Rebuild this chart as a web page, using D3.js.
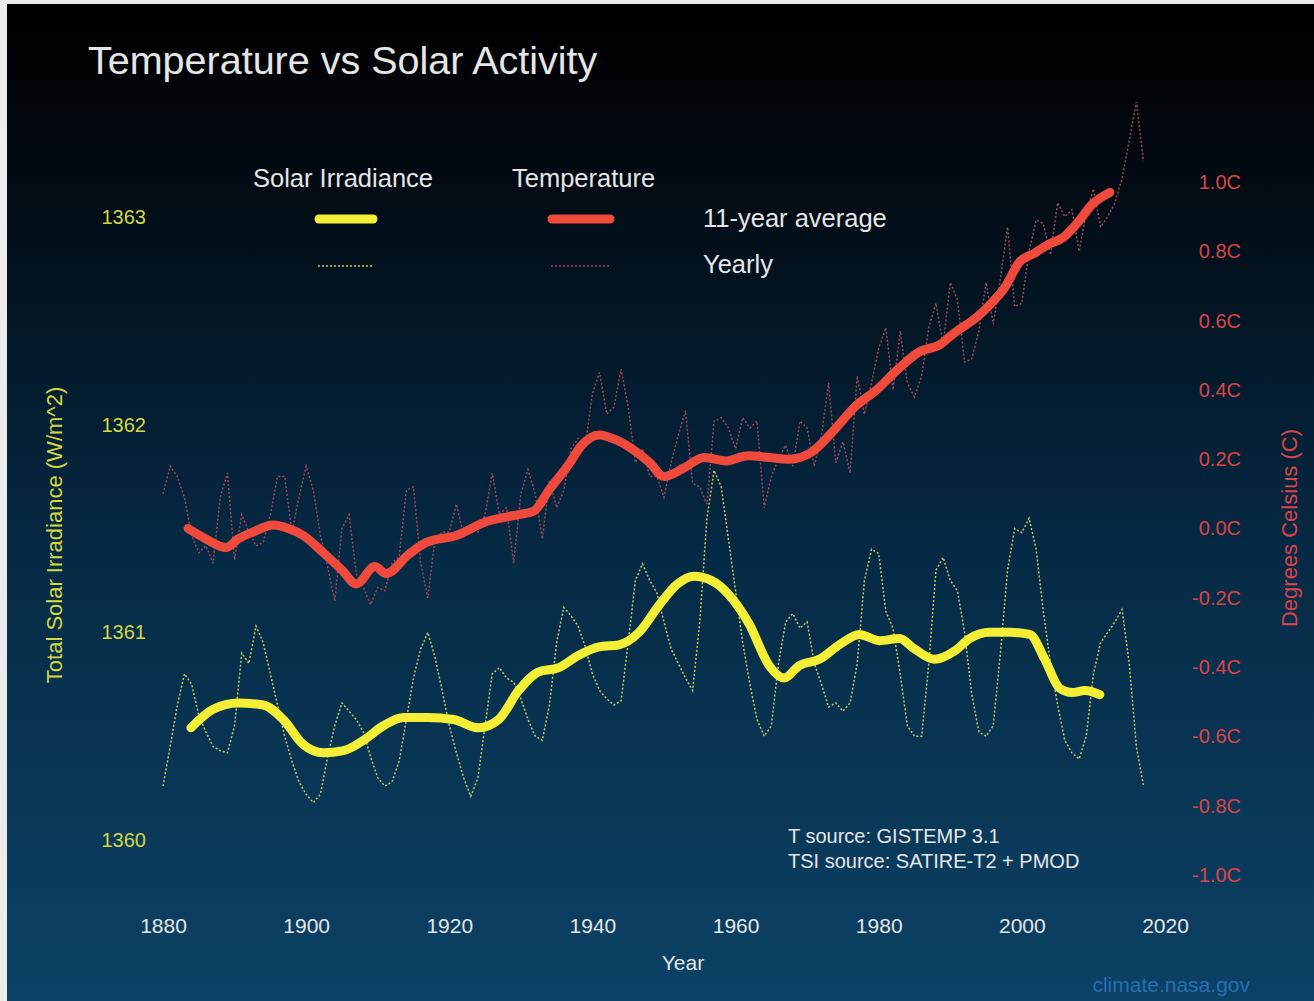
<!DOCTYPE html>
<html>
<head>
<meta charset="utf-8">
<title>Temperature vs Solar Activity</title>
<script src="https://cdn.jsdelivr.net/npm/d3@7"></script>
<style>
  body { margin: 0; background: #ececec; }
  svg { display: block; font-family: "Liberation Sans", Arial, sans-serif; }
</style>
</head>
<body>
<svg id="chart" width="1314" height="1001"></svg>
<script>
// yearly series start in 1880, one value per year
var firstYear = 1880;

// temperature anomaly, yearly (deg C, right axis)
var tempYearly = [
  0.10, 0.18, 0.15, 0.09, -0.02, -0.07, -0.05, -0.10, 0.09, 0.16,
  -0.09, 0.04, -0.01, -0.05, -0.04, 0.04, 0.15, 0.15, -0.01, 0.09,
  0.18, 0.11, -0.02, -0.11, -0.21, 0.00, 0.04, -0.13, -0.17, -0.22,
  -0.17, -0.18, -0.10, -0.08, 0.11, 0.12, -0.10, -0.20, -0.03, -0.01,
  -0.01, 0.07, -0.02, 0.00, -0.01, 0.04, 0.16, 0.04, 0.06, -0.10,
  0.10, 0.17, 0.10, -0.03, 0.14, 0.06, 0.11, 0.23, 0.26, 0.24,
  0.39, 0.45, 0.33, 0.35, 0.46, 0.35, 0.19, 0.23, 0.15, 0.15,
  0.09, 0.19, 0.27, 0.34, 0.13, 0.12, 0.07, 0.31, 0.32, 0.29,
  0.23, 0.32, 0.29, 0.31, 0.06, 0.15, 0.20, 0.24, 0.18, 0.31,
  0.29, 0.18, 0.27, 0.42, 0.19, 0.25, 0.16, 0.44, 0.33, 0.42,
  0.52, 0.58, 0.40, 0.57, 0.42, 0.38, 0.44, 0.58, 0.65, 0.53,
  0.71, 0.66, 0.48, 0.49, 0.57, 0.71, 0.59, 0.72, 0.87, 0.64,
  0.65, 0.80, 0.89, 0.88, 0.79, 0.94, 0.90, 0.92, 0.80, 0.91,
  0.98, 0.87, 0.90, 0.94, 1.01, 1.12, 1.23, 1.06
];

// total solar irradiance, yearly (W/m^2, left axis)
var tsiYearly = [
  1360.26, 1360.45, 1360.65, 1360.80, 1360.75, 1360.60, 1360.52, 1360.45, 1360.43, 1360.42,
  1360.55, 1360.90, 1360.85, 1361.03, 1360.95, 1360.80, 1360.65, 1360.50, 1360.38, 1360.28,
  1360.22, 1360.18, 1360.22, 1360.40, 1360.55, 1360.66, 1360.62, 1360.58, 1360.52, 1360.40,
  1360.30, 1360.26, 1360.28, 1360.38, 1360.58, 1360.78, 1360.92, 1361.00, 1360.88, 1360.72,
  1360.55, 1360.42, 1360.30, 1360.21, 1360.30, 1360.55, 1360.80, 1360.83, 1360.78, 1360.76,
  1360.68, 1360.58, 1360.50, 1360.48, 1360.65, 1360.95, 1361.12, 1361.08, 1361.03, 1360.93,
  1360.80, 1360.72, 1360.68, 1360.65, 1360.67, 1360.95, 1361.25, 1361.33, 1361.25, 1361.19,
  1361.05, 1360.92, 1360.85, 1360.78, 1360.72, 1361.05, 1361.55, 1361.78, 1361.70, 1361.45,
  1361.20, 1360.95, 1360.75, 1360.58, 1360.50, 1360.55, 1360.85, 1361.05, 1361.09, 1361.02,
  1361.05, 1360.85, 1360.75, 1360.64, 1360.66, 1360.62, 1360.66, 1360.85, 1361.25, 1361.40,
  1361.38, 1361.10, 1361.02, 1360.80, 1360.55, 1360.50, 1360.50, 1360.85, 1361.30, 1361.36,
  1361.25, 1361.20, 1361.00, 1360.70, 1360.52, 1360.50, 1360.55, 1360.90, 1361.30, 1361.50,
  1361.48, 1361.55, 1361.40, 1361.10, 1360.85, 1360.65, 1360.48, 1360.42, 1360.39, 1360.50,
  1360.80, 1360.95, 1361.00, 1361.05, 1361.11, 1360.85, 1360.45, 1360.26
];

// 11-year averages
var tempAvgYears = [
  1883.5, 1886, 1888.8, 1890.5, 1892.6, 1895.4, 1897.5, 1899.6, 1902.4, 1905,
  1907, 1909.6, 1911.2, 1914.3, 1916.8, 1921, 1925.2, 1929.7, 1931.8, 1933.9,
  1936.7, 1938.5, 1940.9, 1943.4, 1945.5, 1948, 1950, 1952.8, 1955.6, 1958.7,
  1961.7, 1964.7, 1967.5, 1970.6, 1973.6, 1976.6, 1979.7, 1982.7, 1985.7, 1988.5,
  1990.6, 1993.7, 1995.5, 1997.6, 1999.7, 2001.8, 2003.7, 2005.8, 2007.7, 2009.8,
  2012.3
];
var tempAvgValues = [
  0.00, -0.03, -0.055, -0.03, -0.01, 0.01, 0.00, -0.02, -0.07, -0.12,
  -0.16, -0.11, -0.13, -0.075, -0.04, -0.02, 0.02, 0.04, 0.05, 0.11,
  0.185, 0.24, 0.27, 0.255, 0.23, 0.19, 0.15, 0.175, 0.205, 0.195,
  0.21, 0.205, 0.20, 0.22, 0.28, 0.35, 0.40, 0.46, 0.51, 0.53,
  0.565, 0.61, 0.645, 0.695, 0.77, 0.795, 0.82, 0.84, 0.88, 0.935,
  0.97
];

var tsiAvgYears = [
  1883.9, 1887, 1890.5, 1894, 1896.8, 1899.6, 1902.4, 1905.2, 1908, 1910.8,
  1913.6, 1917, 1920.6, 1924.1, 1926.9, 1929.7, 1932.5, 1935.3, 1938.1, 1940.9,
  1943.7, 1946.5, 1949.3, 1951.8, 1954.2, 1956.6, 1959.1, 1961.9, 1964.7, 1966.8,
  1968.9, 1971.7, 1974.5, 1977.3, 1980.1, 1982.9, 1985, 1987.8, 1990.6, 1992.7,
  1995.5, 1998.3, 2001.1, 2003.2, 2005.3, 2007, 2008.8, 2010.9
];
var tsiAvgValues = [
  1360.54, 1360.63, 1360.66, 1360.65, 1360.58, 1360.46, 1360.42, 1360.43, 1360.48, 1360.55,
  1360.59, 1360.59, 1360.58, 1360.54, 1360.58, 1360.72, 1360.81, 1360.83, 1360.89, 1360.93,
  1360.94, 1361.00, 1361.13, 1361.23, 1361.27, 1361.25, 1361.18, 1361.04, 1360.84, 1360.78,
  1360.84, 1360.87, 1360.94, 1360.99, 1360.96, 1360.97, 1360.92, 1360.87, 1360.91, 1360.97,
  1361.00, 1361.00, 1360.99, 1360.87, 1360.73, 1360.71, 1360.72, 1360.70
];

// tick labels
var yearTicks = [1880, 1900, 1920, 1940, 1960, 1980, 2000, 2020];
var tsiTicks = [1360, 1361, 1362, 1363];
var tempTicks = [-1.0, -0.8, -0.6, -0.4, -0.2, 0.0, 0.2, 0.4, 0.6, 0.8, 1.0];

var colors = {
  tsi: "#f4ef36",
  tsiThin: "#c3c95e",
  temp: "#ef4a3c",
  tempThin: "#a04555",
  tsiText: "#d4d744",
  tempText: "#da4448",
  text: "#e6e6e6"
};

var svg = d3.select("#chart");

var x = d3.scaleLinear().domain([1880, 2020]).range([163, 1165]);
var yTsi = d3.scaleLinear().domain([1360, 1363]).range([840, 217]);
var yTemp = d3.scaleLinear().domain([-1, 1]).range([875, 182]);

// background panel
var grad = svg.append("defs").append("linearGradient")
  .attr("id", "bg").attr("x1", 0).attr("y1", 0).attr("x2", 0).attr("y2", 1);
grad.append("stop").attr("offset", "0%").attr("stop-color", "#000000");
grad.append("stop").attr("offset", "12%").attr("stop-color", "#01060b");
grad.append("stop").attr("offset", "55%").attr("stop-color", "#062a45");
grad.append("stop").attr("offset", "100%").attr("stop-color", "#0c4266");

svg.append("rect")
  .attr("x", 7).attr("y", 4)
  .attr("width", 1307).attr("height", 997)
  .attr("fill", "url(#bg)");

// title
svg.append("text")
  .attr("x", 88).attr("y", 74)
  .attr("fill", colors.text)
  .style("font-size", "39.5px")
  .text("Temperature vs Solar Activity");

// axes
function styleAxis(g, color, size) {
  g.select(".domain").remove();
  g.selectAll("text")
    .attr("fill", color)
    .style("font-size", size + "px")
    .style("font-family", "Liberation Sans, Arial, sans-serif");
}

svg.append("g")
  .attr("transform", "translate(0,918)")
  .call(d3.axisBottom(x).tickValues(yearTicks).tickSize(0).tickPadding(0).tickFormat(d3.format("d")))
  .call(styleAxis, colors.text, 21);

svg.append("g")
  .attr("transform", "translate(146,0)")
  .call(d3.axisLeft(yTsi).tickValues(tsiTicks).tickSize(0).tickPadding(0).tickFormat(d3.format("d")))
  .call(styleAxis, colors.tsiText, 20);

svg.append("g")
  .attr("transform", "translate(1241,0)")
  .call(d3.axisLeft(yTemp).tickValues(tempTicks).tickSize(0).tickPadding(0)
    .tickFormat(function (d) { return d.toFixed(1) + "C"; }))
  .call(styleAxis, colors.tempText, 20);

svg.append("text")
  .attr("transform", "translate(62,535) rotate(-90)")
  .attr("text-anchor", "middle")
  .attr("fill", colors.tsiText)
  .style("font-size", "22px")
  .text("Total Solar Irradiance (W/m^2)");

svg.append("text")
  .attr("transform", "translate(1297,528) rotate(-90)")
  .attr("text-anchor", "middle")
  .attr("fill", colors.tempText)
  .style("font-size", "22px")
  .text("Degrees Celsius (C)");

svg.append("text")
  .attr("x", 683).attr("y", 970)
  .attr("text-anchor", "middle")
  .attr("fill", colors.text)
  .style("font-size", "21px")
  .text("Year");

// lines
var tsiLine = d3.line().x(function (d) { return x(d[0]); }).y(function (d) { return yTsi(d[1]); });
var tempLine = d3.line().x(function (d) { return x(d[0]); }).y(function (d) { return yTemp(d[1]); });

var tsiYearlyPts = tsiYearly.map(function (v, i) { return [firstYear + i, v]; });
var tempYearlyPts = tempYearly.map(function (v, i) { return [firstYear + i, v]; });
var tsiAvgPts = tsiAvgYears.map(function (yr, i) { return [yr, tsiAvgValues[i]]; });
var tempAvgPts = tempAvgYears.map(function (yr, i) { return [yr, tempAvgValues[i]]; });

svg.append("path")
  .datum(tsiYearlyPts)
  .attr("d", tsiLine)
  .attr("fill", "none")
  .attr("stroke", colors.tsiThin)
  .attr("stroke-width", 1.5)
  .attr("stroke-dasharray", "2,2");

svg.append("path")
  .datum(tempYearlyPts)
  .attr("d", tempLine)
  .attr("fill", "none")
  .attr("stroke", colors.tempThin)
  .attr("stroke-width", 1.5)
  .attr("stroke-dasharray", "2,2");

svg.append("path")
  .datum(tsiAvgPts)
  .attr("d", tsiLine.curve(d3.curveMonotoneX))
  .attr("fill", "none")
  .attr("stroke", colors.tsi)
  .attr("stroke-width", 9)
  .attr("stroke-linecap", "round")
  .attr("stroke-linejoin", "round");

svg.append("path")
  .datum(tempAvgPts)
  .attr("d", tempLine.curve(d3.curveMonotoneX))
  .attr("fill", "none")
  .attr("stroke", colors.temp)
  .attr("stroke-width", 9)
  .attr("stroke-linecap", "round")
  .attr("stroke-linejoin", "round");

// legend
var legend = svg.append("g").style("font-size", "25.5px").attr("fill", colors.text);

legend.append("text").attr("x", 253).attr("y", 187).text("Solar Irradiance");
legend.append("text").attr("x", 512).attr("y", 187).text("Temperature");
legend.append("text").attr("x", 703).attr("y", 227).text("11-year average");
legend.append("text").attr("x", 703).attr("y", 273).text("Yearly");

legend.append("line").attr("x1", 319).attr("x2", 373).attr("y1", 219).attr("y2", 219)
  .attr("stroke", colors.tsi).attr("stroke-width", 9).attr("stroke-linecap", "round");
legend.append("line").attr("x1", 552).attr("x2", 610).attr("y1", 219).attr("y2", 219)
  .attr("stroke", colors.temp).attr("stroke-width", 9).attr("stroke-linecap", "round");
legend.append("line").attr("x1", 318).attr("x2", 374).attr("y1", 266).attr("y2", 266)
  .attr("stroke", colors.tsiThin).attr("stroke-width", 1.5).attr("stroke-dasharray", "2,2");
legend.append("line").attr("x1", 551).attr("x2", 611).attr("y1", 266).attr("y2", 266)
  .attr("stroke", colors.tempThin).attr("stroke-width", 1.5).attr("stroke-dasharray", "2,2");

// sources
var notes = svg.append("g").style("font-size", "20px").attr("fill", colors.text);
notes.append("text").attr("x", 788).attr("y", 843).text("T source: GISTEMP 3.1");
notes.append("text").attr("x", 788).attr("y", 868).text("TSI source: SATIRE-T2 + PMOD");

svg.append("text")
  .attr("x", 1250).attr("y", 992)
  .attr("text-anchor", "end")
  .attr("fill", "#2a6db4")
  .style("font-size", "21px")
  .text("climate.nasa.gov");
</script>
</body>
</html>
